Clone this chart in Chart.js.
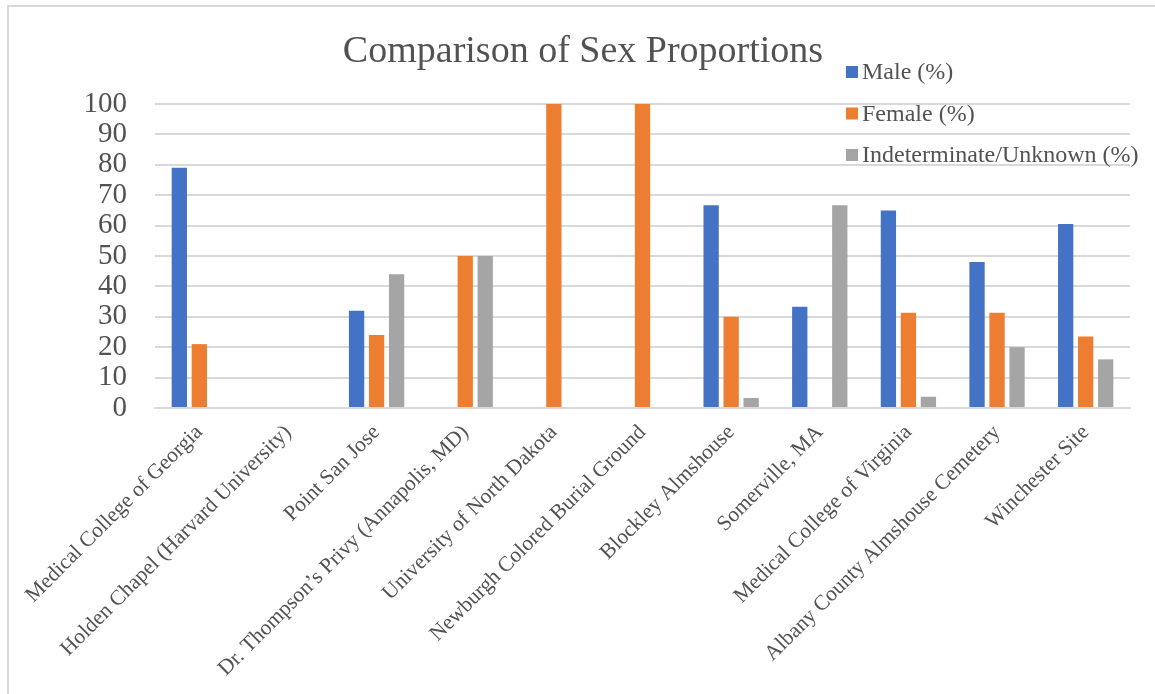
<!DOCTYPE html>
<html>
<head>
<meta charset="utf-8">
<title>Comparison of Sex Proportions</title>
<script src="https://cdn.jsdelivr.net/npm/chart.js@4.4.1/dist/chart.umd.min.js"></script>
<style>
  html, body { margin: 0; padding: 0; background: #ffffff; }
  #wrap { position: relative; width: 1155px; height: 694px; }
  canvas { display: block; }
</style>
</head>
<body>
<div id="wrap"><canvas id="chart" width="1155" height="694"></canvas></div>
<script>
// Sites compared
const categories = [
  "Medical College of Georgia",
  "Holden Chapel (Harvard University)",
  "Point San Jose",
  "Dr. Thompson\u2019s Privy (Annapolis, MD)",
  "University of North Dakota",
  "Newburgh Colored Burial Ground",
  "Blockley Almshouse",
  "Somerville, MA",
  "Medical College of Virginia",
  "Albany County Almshouse Cemetery",
  "Winchester Site"
];

// Percentages per site
const malePct          = [79, 0, 32, 0, 0, 0, 66.7, 33.3, 65, 48, 60.5];
const femalePct        = [21, 0, 24, 50, 100, 100, 30, 0, 31.3, 31.3, 23.5];
const indeterminatePct = [0, 0, 44, 50, 0, 0, 3.3, 66.7, 3.7, 20, 16];

const seriesNames = ["Male (%)", "Female (%)", "Indeterminate/Unknown (%)"];
const seriesColors = ["#4472C4", "#ED7D31", "#A5A5A5"];

const chartTitle = "Comparison of Sex Proportions";
const yTicks = [0, 10, 20, 30, 40, 50, 60, 70, 80, 90, 100];

const SERIF = "'Liberation Serif', 'Times New Roman', serif";
const TEXT = "#525252";

// Frame, title and the stacked legend at the upper right
const decorations = {
  id: "decorations",
  beforeDraw(chart) {
    const ctx = chart.ctx;
    ctx.save();
    ctx.strokeStyle = "#d9d9d9";
    ctx.lineWidth = 2;
    ctx.beginPath();
    ctx.moveTo(8, 700);
    ctx.lineTo(8, 6);
    ctx.lineTo(1160, 6);
    ctx.stroke();
    ctx.restore();
  },
  afterDraw(chart) {
    const ctx = chart.ctx;
    ctx.save();
    ctx.fillStyle = TEXT;
    ctx.font = "38px " + SERIF;
    ctx.textAlign = "center";
    ctx.textBaseline = "alphabetic";
    ctx.fillText(chartTitle, 583, 62);

    ctx.font = "24px " + SERIF;
    ctx.textAlign = "left";
    ctx.textBaseline = "middle";
    chart.data.datasets.forEach((ds, i) => {
      const cy = 72 + i * 41.5;
      ctx.fillStyle = ds.backgroundColor;
      ctx.fillRect(846, cy - 6, 12, 12);
      ctx.fillStyle = TEXT;
      ctx.fillText(ds.label, 862, cy + 1);
    });
    ctx.restore();
  }
};

const seriesValues = [malePct, femalePct, indeterminatePct];

new Chart(document.getElementById("chart"), {
  type: "bar",
  data: {
    labels: categories,
    datasets: seriesValues.map((vals, i) => ({
      label: seriesNames[i],
      data: vals,
      backgroundColor: seriesColors[i],
      borderWidth: 0,
      categoryPercentage: 0.677,
      barPercentage: 0.765
    }))
  },
  options: {
    responsive: false,
    animation: false,
    devicePixelRatio: 1,
    layout: { padding: { top: 104, right: 25, left: 0, bottom: 0 } },
    plugins: {
      legend: { display: false },
      title: { display: false },
      tooltip: { enabled: false }
    },
    scales: {
      x: {
        grid: { display: false, drawTicks: false },
        border: { display: true, color: "#d9d9d9", width: 2 },
        ticks: {
          autoSkip: false,
          maxRotation: 45,
          minRotation: 45,
          padding: 12,
          color: TEXT,
          font: { family: SERIF, size: 21.5 }
        },
        afterFit(scale) { scale.height = 286; }
      },
      y: {
        min: 0,
        max: 100,
        afterBuildTicks(scale) { scale.ticks = yTicks.map(v => ({ value: v })); },
        grid: { color: "#d9d9d9", lineWidth: 2, drawTicks: false },
        border: { display: false },
        ticks: {
          autoSkip: false,
          padding: 28,
          color: TEXT,
          font: { family: SERIF, size: 29 }
        },
        afterFit(scale) { scale.width = 155; }
      }
    }
  },
  plugins: [decorations]
});
</script>
</body>
</html>
